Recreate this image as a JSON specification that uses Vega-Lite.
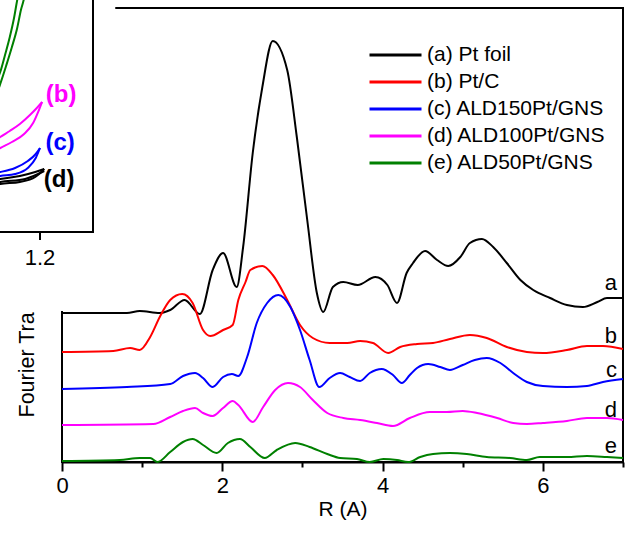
{
  "$schema": "https://vega.github.io/schema/vega-lite/v6.json",
  "width": 561,
  "height": 454,
  "autosize": {"type": "none"},
  "padding": {"left": 62, "top": 8, "right": 11, "bottom": 72},
  "config": {
    "font": "Liberation Sans",
    "view": {"stroke": "black", "strokeWidth": 2},
    "axis": {"grid": false}
  },
  "resolve": {"scale": {"x": "independent", "y": "independent"}},
  "layer": [
    {
      "layer": [
        {
          "data": {"values": [
            {"s":"(a) Pt foil","r":0,"v":149},{"s":"(a) Pt foil","r":0.81,"v":149},{"s":"(a) Pt foil","r":0.97,"v":151},{"s":"(a) Pt foil","r":1.22,"v":149},{"s":"(a) Pt foil","r":1.35,"v":152},{"s":"(a) Pt foil","r":1.53,"v":162},{"s":"(a) Pt foil","r":1.72,"v":148},{"s":"(a) Pt foil","r":1.88,"v":192},{"s":"(a) Pt foil","r":2.01,"v":209},{"s":"(a) Pt foil","r":2.18,"v":175},{"s":"(a) Pt foil","r":2.26,"v":215},{"s":"(a) Pt foil","r":2.38,"v":309},{"s":"(a) Pt foil","r":2.5,"v":375},{"s":"(a) Pt foil","r":2.63,"v":421},{"s":"(a) Pt foil","r":2.81,"v":392},{"s":"(a) Pt foil","r":2.93,"v":325},{"s":"(a) Pt foil","r":3.06,"v":242},{"s":"(a) Pt foil","r":3.18,"v":169},{"s":"(a) Pt foil","r":3.26,"v":150},{"s":"(a) Pt foil","r":3.38,"v":175},{"s":"(a) Pt foil","r":3.51,"v":180},{"s":"(a) Pt foil","r":3.69,"v":177},{"s":"(a) Pt foil","r":3.91,"v":185},{"s":"(a) Pt foil","r":4.06,"v":177},{"s":"(a) Pt foil","r":4.18,"v":159},{"s":"(a) Pt foil","r":4.3,"v":189},{"s":"(a) Pt foil","r":4.38,"v":199},{"s":"(a) Pt foil","r":4.53,"v":211},{"s":"(a) Pt foil","r":4.68,"v":202},{"s":"(a) Pt foil","r":4.82,"v":196},{"s":"(a) Pt foil","r":4.97,"v":205},{"s":"(a) Pt foil","r":5.09,"v":219},{"s":"(a) Pt foil","r":5.24,"v":223},{"s":"(a) Pt foil","r":5.38,"v":215},{"s":"(a) Pt foil","r":5.55,"v":199},{"s":"(a) Pt foil","r":5.72,"v":182},{"s":"(a) Pt foil","r":5.88,"v":172},{"s":"(a) Pt foil","r":6.09,"v":164},{"s":"(a) Pt foil","r":6.3,"v":157},{"s":"(a) Pt foil","r":6.5,"v":155},{"s":"(a) Pt foil","r":6.68,"v":160},{"s":"(a) Pt foil","r":6.8,"v":164},{"s":"(a) Pt foil","r":7.0,"v":164},
            {"s":"(b) Pt/C","r":0,"v":110},{"s":"(b) Pt/C","r":0.64,"v":111},{"s":"(b) Pt/C","r":0.85,"v":114},{"s":"(b) Pt/C","r":0.97,"v":112},{"s":"(b) Pt/C","r":1.1,"v":125},{"s":"(b) Pt/C","r":1.22,"v":145},{"s":"(b) Pt/C","r":1.35,"v":162},{"s":"(b) Pt/C","r":1.5,"v":168},{"s":"(b) Pt/C","r":1.63,"v":159},{"s":"(b) Pt/C","r":1.76,"v":132},{"s":"(b) Pt/C","r":1.85,"v":126},{"s":"(b) Pt/C","r":2.01,"v":132},{"s":"(b) Pt/C","r":2.13,"v":137},{"s":"(b) Pt/C","r":2.2,"v":162},{"s":"(b) Pt/C","r":2.29,"v":180},{"s":"(b) Pt/C","r":2.35,"v":192},{"s":"(b) Pt/C","r":2.5,"v":196},{"s":"(b) Pt/C","r":2.63,"v":187},{"s":"(b) Pt/C","r":2.81,"v":162},{"s":"(b) Pt/C","r":2.97,"v":137},{"s":"(b) Pt/C","r":3.13,"v":124},{"s":"(b) Pt/C","r":3.34,"v":119},{"s":"(b) Pt/C","r":3.56,"v":119},{"s":"(b) Pt/C","r":3.72,"v":121},{"s":"(b) Pt/C","r":3.88,"v":119},{"s":"(b) Pt/C","r":4.07,"v":109},{"s":"(b) Pt/C","r":4.22,"v":115},{"s":"(b) Pt/C","r":4.43,"v":118},{"s":"(b) Pt/C","r":4.63,"v":119},{"s":"(b) Pt/C","r":4.84,"v":123},{"s":"(b) Pt/C","r":5.09,"v":127},{"s":"(b) Pt/C","r":5.3,"v":124},{"s":"(b) Pt/C","r":5.55,"v":115},{"s":"(b) Pt/C","r":5.8,"v":110},{"s":"(b) Pt/C","r":6.0,"v":109},{"s":"(b) Pt/C","r":6.3,"v":112},{"s":"(b) Pt/C","r":6.55,"v":116},{"s":"(b) Pt/C","r":6.75,"v":116},{"s":"(b) Pt/C","r":7.0,"v":113},
            {"s":"(c) ALD150Pt/GNS","r":0,"v":73},{"s":"(c) ALD150Pt/GNS","r":0.81,"v":75},{"s":"(c) ALD150Pt/GNS","r":1.35,"v":78},{"s":"(c) ALD150Pt/GNS","r":1.51,"v":86},{"s":"(c) ALD150Pt/GNS","r":1.66,"v":89},{"s":"(c) ALD150Pt/GNS","r":1.76,"v":84},{"s":"(c) ALD150Pt/GNS","r":1.88,"v":75},{"s":"(c) ALD150Pt/GNS","r":2.01,"v":85},{"s":"(c) ALD150Pt/GNS","r":2.12,"v":88},{"s":"(c) ALD150Pt/GNS","r":2.2,"v":86},{"s":"(c) ALD150Pt/GNS","r":2.31,"v":105},{"s":"(c) ALD150Pt/GNS","r":2.43,"v":139},{"s":"(c) ALD150Pt/GNS","r":2.56,"v":159},{"s":"(c) ALD150Pt/GNS","r":2.7,"v":167},{"s":"(c) ALD150Pt/GNS","r":2.85,"v":155},{"s":"(c) ALD150Pt/GNS","r":2.97,"v":132},{"s":"(c) ALD150Pt/GNS","r":3.09,"v":102},{"s":"(c) ALD150Pt/GNS","r":3.21,"v":75},{"s":"(c) ALD150Pt/GNS","r":3.34,"v":84},{"s":"(c) ALD150Pt/GNS","r":3.47,"v":89},{"s":"(c) ALD150Pt/GNS","r":3.59,"v":85},{"s":"(c) ALD150Pt/GNS","r":3.72,"v":81},{"s":"(c) ALD150Pt/GNS","r":3.84,"v":89},{"s":"(c) ALD150Pt/GNS","r":3.99,"v":93},{"s":"(c) ALD150Pt/GNS","r":4.13,"v":87},{"s":"(c) ALD150Pt/GNS","r":4.24,"v":79},{"s":"(c) ALD150Pt/GNS","r":4.34,"v":87},{"s":"(c) ALD150Pt/GNS","r":4.43,"v":94},{"s":"(c) ALD150Pt/GNS","r":4.57,"v":98},{"s":"(c) ALD150Pt/GNS","r":4.72,"v":95},{"s":"(c) ALD150Pt/GNS","r":4.84,"v":92},{"s":"(c) ALD150Pt/GNS","r":5.0,"v":97},{"s":"(c) ALD150Pt/GNS","r":5.15,"v":102},{"s":"(c) ALD150Pt/GNS","r":5.3,"v":104},{"s":"(c) ALD150Pt/GNS","r":5.47,"v":99},{"s":"(c) ALD150Pt/GNS","r":5.63,"v":89},{"s":"(c) ALD150Pt/GNS","r":5.8,"v":80},{"s":"(c) ALD150Pt/GNS","r":6.0,"v":76},{"s":"(c) ALD150Pt/GNS","r":6.3,"v":75},{"s":"(c) ALD150Pt/GNS","r":6.55,"v":76},{"s":"(c) ALD150Pt/GNS","r":6.75,"v":80},{"s":"(c) ALD150Pt/GNS","r":7.0,"v":83},
            {"s":"(d) ALD100Pt/GNS","r":0,"v":37},{"s":"(d) ALD100Pt/GNS","r":1.14,"v":38},{"s":"(d) ALD100Pt/GNS","r":1.35,"v":45},{"s":"(d) ALD100Pt/GNS","r":1.51,"v":51},{"s":"(d) ALD100Pt/GNS","r":1.66,"v":54},{"s":"(d) ALD100Pt/GNS","r":1.76,"v":49},{"s":"(d) ALD100Pt/GNS","r":1.88,"v":46},{"s":"(d) ALD100Pt/GNS","r":2.01,"v":54},{"s":"(d) ALD100Pt/GNS","r":2.13,"v":61},{"s":"(d) ALD100Pt/GNS","r":2.2,"v":57},{"s":"(d) ALD100Pt/GNS","r":2.38,"v":40},{"s":"(d) ALD100Pt/GNS","r":2.51,"v":55},{"s":"(d) ALD100Pt/GNS","r":2.66,"v":72},{"s":"(d) ALD100Pt/GNS","r":2.82,"v":79},{"s":"(d) ALD100Pt/GNS","r":2.97,"v":75},{"s":"(d) ALD100Pt/GNS","r":3.13,"v":62},{"s":"(d) ALD100Pt/GNS","r":3.31,"v":49},{"s":"(d) ALD100Pt/GNS","r":3.51,"v":44},{"s":"(d) ALD100Pt/GNS","r":3.72,"v":42},{"s":"(d) ALD100Pt/GNS","r":3.93,"v":39},{"s":"(d) ALD100Pt/GNS","r":4.13,"v":36},{"s":"(d) ALD100Pt/GNS","r":4.34,"v":44},{"s":"(d) ALD100Pt/GNS","r":4.59,"v":50},{"s":"(d) ALD100Pt/GNS","r":4.8,"v":50},{"s":"(d) ALD100Pt/GNS","r":5.0,"v":51},{"s":"(d) ALD100Pt/GNS","r":5.18,"v":49},{"s":"(d) ALD100Pt/GNS","r":5.43,"v":44},{"s":"(d) ALD100Pt/GNS","r":5.63,"v":39},{"s":"(d) ALD100Pt/GNS","r":5.8,"v":38},{"s":"(d) ALD100Pt/GNS","r":6.0,"v":39},{"s":"(d) ALD100Pt/GNS","r":6.3,"v":41},{"s":"(d) ALD100Pt/GNS","r":6.55,"v":44},{"s":"(d) ALD100Pt/GNS","r":6.8,"v":44},{"s":"(d) ALD100Pt/GNS","r":7.0,"v":42},
            {"s":"(e) ALD50Pt/GNS","r":0,"v":1},{"s":"(e) ALD50Pt/GNS","r":0.72,"v":2},{"s":"(e) ALD50Pt/GNS","r":0.97,"v":4},{"s":"(e) ALD50Pt/GNS","r":1.1,"v":4},{"s":"(e) ALD50Pt/GNS","r":1.19,"v":0},{"s":"(e) ALD50Pt/GNS","r":1.35,"v":10},{"s":"(e) ALD50Pt/GNS","r":1.51,"v":20},{"s":"(e) ALD50Pt/GNS","r":1.63,"v":23},{"s":"(e) ALD50Pt/GNS","r":1.76,"v":17},{"s":"(e) ALD50Pt/GNS","r":1.93,"v":9},{"s":"(e) ALD50Pt/GNS","r":2.07,"v":19},{"s":"(e) ALD50Pt/GNS","r":2.22,"v":23},{"s":"(e) ALD50Pt/GNS","r":2.35,"v":15},{"s":"(e) ALD50Pt/GNS","r":2.53,"v":4},{"s":"(e) ALD50Pt/GNS","r":2.68,"v":12},{"s":"(e) ALD50Pt/GNS","r":2.91,"v":19},{"s":"(e) ALD50Pt/GNS","r":3.09,"v":15},{"s":"(e) ALD50Pt/GNS","r":3.31,"v":8},{"s":"(e) ALD50Pt/GNS","r":3.47,"v":4},{"s":"(e) ALD50Pt/GNS","r":3.68,"v":3},{"s":"(e) ALD50Pt/GNS","r":3.84,"v":0},{"s":"(e) ALD50Pt/GNS","r":4.01,"v":3},{"s":"(e) ALD50Pt/GNS","r":4.18,"v":2},{"s":"(e) ALD50Pt/GNS","r":4.32,"v":0},{"s":"(e) ALD50Pt/GNS","r":4.47,"v":5},{"s":"(e) ALD50Pt/GNS","r":4.63,"v":8},{"s":"(e) ALD50Pt/GNS","r":4.84,"v":9},{"s":"(e) ALD50Pt/GNS","r":5.05,"v":8},{"s":"(e) ALD50Pt/GNS","r":5.3,"v":5},{"s":"(e) ALD50Pt/GNS","r":5.59,"v":4},{"s":"(e) ALD50Pt/GNS","r":5.8,"v":2},{"s":"(e) ALD50Pt/GNS","r":5.96,"v":5},{"s":"(e) ALD50Pt/GNS","r":6.3,"v":5},{"s":"(e) ALD50Pt/GNS","r":6.55,"v":6},{"s":"(e) ALD50Pt/GNS","r":6.8,"v":5},{"s":"(e) ALD50Pt/GNS","r":7.0,"v":4}
          ]},
          "mark": {"type": "line", "interpolate": "monotone", "strokeWidth": 2},
          "encoding": {
            "x": {"field": "r", "type": "quantitative", "scale": {"domain": [0, 7], "nice": false},
              "axis": {"title": "R (A)", "values": [0,1,2,3,4,5,6,7], "labelExpr": "datum.value % 2 === 0 ? format(datum.value, 'd') : ''",
                "ticks": true, "tickSize": {"condition": {"test": "datum.value % 2 === 0", "value": 9}, "value": 5},
                "tickColor": "black", "tickWidth": 2, "domainColor": "black", "domainWidth": 2,
                "labelFlush": false, "labelFontSize": 22, "labelColor": "black", "labelPadding": 4,
                "titleFontSize": 21, "titleFontWeight": "normal", "titleColor": "black", "titlePadding": 2}},
            "y": {"field": "v", "type": "quantitative", "scale": {"domain": [0, 454], "nice": false},
              "axis": {"title": "Fourier Transform Magnitude (a.u.)", "labels": false, "ticks": false, "domain": false,
                "titleFontSize": 21.5, "titleFontWeight": "normal", "titleColor": "black",
                "titleX": -29, "titleY": 409, "titleAngle": -90, "titleAlign": "left", "titleBaseline": "alphabetic", "zindex": 0}},
            "color": {"field": "s", "type": "nominal",
              "scale": {"domain": ["(a) Pt foil","(b) Pt/C","(c) ALD150Pt/GNS","(d) ALD100Pt/GNS","(e) ALD50Pt/GNS"],
                        "range": ["#000000","#ff0000","#0000ff","#ff00ff","#008000"]},
              "legend": {"orient": "none", "legendX": 306, "legendY": 36, "title": null, "symbolType": "stroke",
                "symbolSize": 2704, "symbolStrokeWidth": 3, "clipHeight": 22, "rowPadding": 5, "padding": 0,
                "labelFontSize": 21, "labelOffset": 4, "labelColor": "black", "labelLimit": 400}}
          }
        },
        {
          "data": {"values": [
            {"r": 6.925, "v": 172, "t": "a"}, {"r": 6.925, "v": 119, "t": "b"}, {"r": 6.925, "v": 85, "t": "c"},
            {"r": 6.925, "v": 45, "t": "d"}, {"r": 6.925, "v": 9, "t": "e"}
          ]},
          "mark": {"type": "text", "align": "right", "baseline": "alphabetic", "fontSize": 22, "color": "black"},
          "encoding": {
            "x": {"field": "r", "type": "quantitative"},
            "y": {"field": "v", "type": "quantitative"},
            "text": {"field": "t"}
          }
        }
      ]
    },
    {
      "layer": [
        {
          "data": {"values": [{"x1": 1.0, "x2": 1.342, "y1": -7.9, "y2": 25}]},
          "mark": {"type": "rect", "fill": "white"},
          "encoding": {
            "x": {"field": "x1", "type": "quantitative", "scale": {"domain": [1.1, 1.3], "range": [-75, 31], "nice": false, "zero": false}, "axis": null},
            "x2": {"field": "x2"},
            "y": {"field": "y1", "type": "quantitative", "scale": {"domain": [0, 23.2], "range": [224, -8], "nice": false, "zero": false}, "axis": null},
            "y2": {"field": "y2"}
          }
        },
        {
          "data": {"values": [{"x1": 1.0, "x2": 1.3, "y1": 0, "y2": 25}]},
          "mark": {"type": "rect", "fill": "white", "stroke": "black", "strokeWidth": 2},
          "encoding": {
            "x": {"field": "x1", "type": "quantitative", "scale": {"domain": [1.1, 1.3], "range": [-75, 31], "nice": false, "zero": false}, "axis": null},
            "x2": {"field": "x2"},
            "y": {"field": "y1", "type": "quantitative", "scale": {"domain": [0, 23.2], "range": [224, -8], "nice": false, "zero": false}, "axis": null},
            "y2": {"field": "y2"}
          }
        },
        {
          "data": {"values": [{"x": 1.2, "y1": 0, "y2": -0.8}]},
          "mark": {"type": "rule", "stroke": "black", "strokeWidth": 2},
          "encoding": {
            "x": {"field": "x", "type": "quantitative", "scale": {"domain": [1.1, 1.3], "range": [-75, 31], "nice": false, "zero": false}, "axis": null},
            "y": {"field": "y1", "type": "quantitative", "scale": {"domain": [0, 23.2], "range": [224, -8], "nice": false, "zero": false}, "axis": null},
            "y2": {"field": "y2"}
          }
        },
        {
          "data": {"values": [{"x": 1.2, "y": -2.6, "t": "1.2"}]},
          "mark": {"type": "text", "fontSize": 22, "color": "black", "align": "center", "baseline": "middle"},
          "encoding": {
            "x": {"field": "x", "type": "quantitative", "scale": {"domain": [1.1, 1.3], "range": [-75, 31], "nice": false, "zero": false}, "axis": null},
            "y": {"field": "y", "type": "quantitative", "scale": {"domain": [0, 23.2], "range": [224, -8], "nice": false, "zero": false}, "axis": null},
            "text": {"field": "t"}
          }
        },
        {
          "data": {"values": [
            {"c":"e","k":"g1","x":1.115,"y":14.8},{"c":"e","k":"g1","x":1.125,"y":16.0},{"c":"e","k":"g1","x":1.134,"y":17.7},{"c":"e","k":"g1","x":1.143,"y":19.5},{"c":"e","k":"g1","x":1.151,"y":21.4},{"c":"e","k":"g1","x":1.157,"y":23.2},{"c":"e","k":"g1","x":1.16,"y":24.0},
            {"c":"e","k":"g2","x":1.115,"y":13.3},{"c":"e","k":"g2","x":1.125,"y":14.8},{"c":"e","k":"g2","x":1.136,"y":16.6},{"c":"e","k":"g2","x":1.147,"y":18.5},{"c":"e","k":"g2","x":1.157,"y":20.4},{"c":"e","k":"g2","x":1.164,"y":22.2},{"c":"e","k":"g2","x":1.17,"y":23.4},{"c":"e","k":"g2","x":1.172,"y":24.0},
            {"c":"b","k":"m1","x":1.115,"y":9.1},{"c":"b","k":"m1","x":1.125,"y":9.5},{"c":"b","k":"m1","x":1.143,"y":10.1},{"c":"b","k":"m1","x":1.162,"y":10.8},{"c":"b","k":"m1","x":1.181,"y":11.7},{"c":"b","k":"m1","x":1.194,"y":12.4},{"c":"b","k":"m1","x":1.204,"y":13.0},
            {"c":"b","k":"m2","x":1.115,"y":8.1},{"c":"b","k":"m2","x":1.125,"y":8.4},{"c":"b","k":"m2","x":1.147,"y":9.0},{"c":"b","k":"m2","x":1.17,"y":9.8},{"c":"b","k":"m2","x":1.187,"y":10.9},{"c":"b","k":"m2","x":1.198,"y":12.2},{"c":"b","k":"m2","x":1.204,"y":13.0},
            {"c":"c","k":"c1","x":1.115,"y":5.9},{"c":"c","k":"c1","x":1.125,"y":6.0},{"c":"c","k":"c1","x":1.153,"y":6.4},{"c":"c","k":"c1","x":1.177,"y":7.1},{"c":"c","k":"c1","x":1.192,"y":7.8},{"c":"c","k":"c1","x":1.2,"y":8.4},
            {"c":"c","k":"c2","x":1.115,"y":5.5},{"c":"c","k":"c2","x":1.125,"y":5.6},{"c":"c","k":"c2","x":1.153,"y":5.8},{"c":"c","k":"c2","x":1.177,"y":6.4},{"c":"c","k":"c2","x":1.192,"y":7.4},{"c":"c","k":"c2","x":1.2,"y":8.4},
            {"c":"d","k":"d1","x":1.115,"y":5.2},{"c":"d","k":"d1","x":1.125,"y":5.3},{"c":"d","k":"d1","x":1.162,"y":5.6},{"c":"d","k":"d1","x":1.191,"y":6.0},{"c":"d","k":"d1","x":1.208,"y":6.3},
            {"c":"d","k":"d2","x":1.115,"y":4.7},{"c":"d","k":"d2","x":1.125,"y":4.8},{"c":"d","k":"d2","x":1.162,"y":5.0},{"c":"d","k":"d2","x":1.191,"y":5.5},{"c":"d","k":"d2","x":1.208,"y":6.3},
            {"c":"d","k":"d3","x":1.115,"y":4.9},{"c":"d","k":"d3","x":1.125,"y":5.0},{"c":"d","k":"d3","x":1.172,"y":5.3},{"c":"d","k":"d3","x":1.208,"y":6.1}
          ]},
          "layer": [
            {"transform": [{"filter": "datum.c === 'e'"}], "mark": {"type": "line", "interpolate": "monotone", "strokeWidth": 2, "color": "#008000"},
             "encoding": {
               "x": {"field": "x", "type": "quantitative", "scale": {"domain": [1.1, 1.3], "range": [-75, 31], "nice": false, "zero": false}, "axis": null},
               "y": {"field": "y", "type": "quantitative", "scale": {"domain": [0, 23.2], "range": [224, -8], "nice": false, "zero": false}, "axis": null},
               "detail": {"field": "k"}, "order": {"field": "x"}}},
            {"transform": [{"filter": "datum.c === 'b'"}], "mark": {"type": "line", "interpolate": "monotone", "strokeWidth": 2, "color": "#ff00ff"},
             "encoding": {
               "x": {"field": "x", "type": "quantitative", "scale": {"domain": [1.1, 1.3], "range": [-75, 31], "nice": false, "zero": false}, "axis": null},
               "y": {"field": "y", "type": "quantitative", "scale": {"domain": [0, 23.2], "range": [224, -8], "nice": false, "zero": false}, "axis": null},
               "detail": {"field": "k"}, "order": {"field": "x"}}},
            {"transform": [{"filter": "datum.c === 'c'"}], "mark": {"type": "line", "interpolate": "monotone", "strokeWidth": 2, "color": "#0000ff"},
             "encoding": {
               "x": {"field": "x", "type": "quantitative", "scale": {"domain": [1.1, 1.3], "range": [-75, 31], "nice": false, "zero": false}, "axis": null},
               "y": {"field": "y", "type": "quantitative", "scale": {"domain": [0, 23.2], "range": [224, -8], "nice": false, "zero": false}, "axis": null},
               "detail": {"field": "k"}, "order": {"field": "x"}}},
            {"transform": [{"filter": "datum.c === 'd'"}], "mark": {"type": "line", "interpolate": "monotone", "strokeWidth": 2, "color": "#000000"},
             "encoding": {
               "x": {"field": "x", "type": "quantitative", "scale": {"domain": [1.1, 1.3], "range": [-75, 31], "nice": false, "zero": false}, "axis": null},
               "y": {"field": "y", "type": "quantitative", "scale": {"domain": [0, 23.2], "range": [224, -8], "nice": false, "zero": false}, "axis": null},
               "detail": {"field": "k"}, "order": {"field": "x"}}}
          ]
        },
        {
          "data": {"values": [
            {"x": 1.24, "y": 13.7, "t": "(b)", "c": "b"},
            {"x": 1.238, "y": 8.9, "t": "(c)", "c": "c"},
            {"x": 1.236, "y": 5.2, "t": "(d)", "c": "d"}
          ]},
          "layer": [
            {"transform": [{"filter": "datum.c === 'b'"}],
             "mark": {"type": "text", "fontSize": 24, "fontWeight": "bold", "align": "center", "baseline": "middle", "color": "#ff00ff"},
             "encoding": {
               "x": {"field": "x", "type": "quantitative", "scale": {"domain": [1.1, 1.3], "range": [-75, 31], "nice": false, "zero": false}, "axis": null},
               "y": {"field": "y", "type": "quantitative", "scale": {"domain": [0, 23.2], "range": [224, -8], "nice": false, "zero": false}, "axis": null},
               "text": {"field": "t"}}},
            {"transform": [{"filter": "datum.c === 'c'"}],
             "mark": {"type": "text", "fontSize": 24, "fontWeight": "bold", "align": "center", "baseline": "middle", "color": "#0000ff"},
             "encoding": {
               "x": {"field": "x", "type": "quantitative", "scale": {"domain": [1.1, 1.3], "range": [-75, 31], "nice": false, "zero": false}, "axis": null},
               "y": {"field": "y", "type": "quantitative", "scale": {"domain": [0, 23.2], "range": [224, -8], "nice": false, "zero": false}, "axis": null},
               "text": {"field": "t"}}},
            {"transform": [{"filter": "datum.c === 'd'"}],
             "mark": {"type": "text", "fontSize": 24, "fontWeight": "bold", "align": "center", "baseline": "middle", "color": "#000000"},
             "encoding": {
               "x": {"field": "x", "type": "quantitative", "scale": {"domain": [1.1, 1.3], "range": [-75, 31], "nice": false, "zero": false}, "axis": null},
               "y": {"field": "y", "type": "quantitative", "scale": {"domain": [0, 23.2], "range": [224, -8], "nice": false, "zero": false}, "axis": null},
               "text": {"field": "t"}}}
          ]
        }
      ]
    }
  ]
}
